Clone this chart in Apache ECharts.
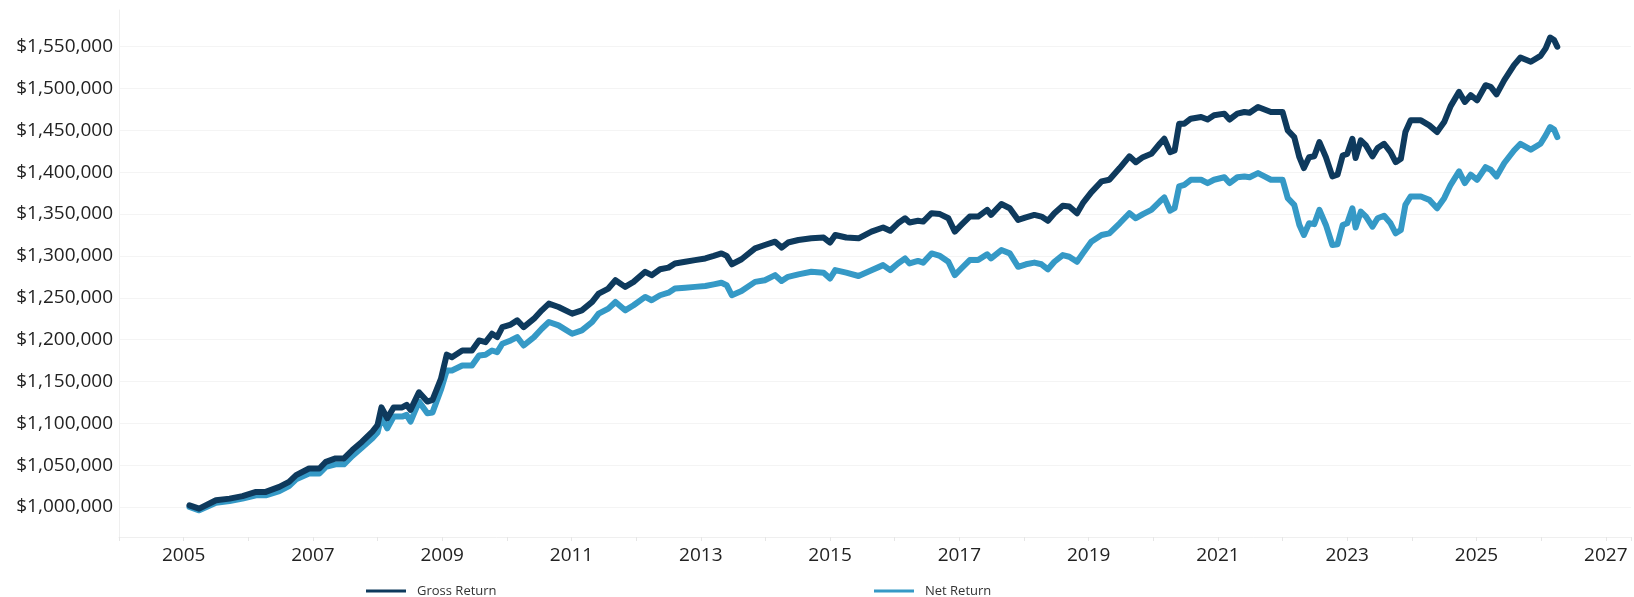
<!DOCTYPE html>
<html>
<head>
<meta charset="utf-8">
<style>
  html, body { margin: 0; padding: 0; background: #ffffff; }
  #chart { width: 1634px; height: 597px; }
</style>
<script src="https://cdn.jsdelivr.net/npm/echarts@6/dist/echarts.min.js"></script>
</head>
<body>
<div id="chart"></div>
<script>
// Decimal years of the read-off points
const years = [
  2005.09, 2005.24, 2005.50, 2005.71, 2005.91, 2006.12, 2006.27, 2006.48, 2006.63, 2006.74,
  2006.94, 2007.10, 2007.20, 2007.35, 2007.48, 2007.61, 2007.76, 2007.92, 2008.00, 2008.06,
  2008.15, 2008.25, 2008.38, 2008.45, 2008.51, 2008.64, 2008.77, 2008.85, 2008.98, 2009.07,
  2009.15, 2009.31, 2009.46, 2009.57, 2009.67, 2009.77, 2009.85, 2009.93, 2010.06, 2010.16,
  2010.26, 2010.42, 2010.54, 2010.65, 2010.80, 2011.01, 2011.16, 2011.32, 2011.42, 2011.57,
  2011.68, 2011.83, 2011.96, 2012.14, 2012.24, 2012.37, 2012.50, 2012.60, 2012.76, 2012.91,
  2013.07, 2013.20, 2013.32, 2013.40, 2013.48, 2013.63, 2013.84, 2013.99, 2014.15, 2014.25,
  2014.35, 2014.51, 2014.71, 2014.90, 2015.00, 2015.08, 2015.25, 2015.44, 2015.64, 2015.82,
  2015.93, 2016.05, 2016.16, 2016.23, 2016.36, 2016.44, 2016.57, 2016.70, 2016.83, 2016.93,
  2017.03, 2017.16, 2017.29, 2017.43, 2017.49, 2017.65, 2017.78, 2017.91, 2018.03, 2018.16,
  2018.27, 2018.37, 2018.47, 2018.60, 2018.70, 2018.82, 2018.91, 2019.04, 2019.20, 2019.32,
  2019.48, 2019.63, 2019.73, 2019.84, 2019.97, 2020.10, 2020.17, 2020.26, 2020.33, 2020.40,
  2020.48, 2020.58, 2020.74, 2020.84, 2020.94, 2021.10, 2021.18, 2021.30, 2021.41, 2021.49,
  2021.62, 2021.72, 2021.82, 2022.00, 2022.08, 2022.18, 2022.26, 2022.33, 2022.41, 2022.49,
  2022.57, 2022.67, 2022.77, 2022.85, 2022.93, 2023.00, 2023.08, 2023.13, 2023.21, 2023.29,
  2023.39, 2023.47, 2023.57, 2023.67, 2023.75, 2023.83, 2023.90, 2023.98, 2024.14, 2024.27,
  2024.39, 2024.50, 2024.60, 2024.73, 2024.82, 2024.91, 2025.01, 2025.14, 2025.22, 2025.31,
  2025.43, 2025.58, 2025.68, 2025.84, 2025.99, 2026.07, 2026.14, 2026.20, 2026.25
];

// Gross Return, thousands of dollars
const grossK = [
  1002, 998, 1008, 1010, 1013, 1018, 1018, 1024, 1030, 1038,
  1046, 1046, 1054, 1058, 1058, 1068, 1078, 1090, 1098, 1119,
  1106, 1119, 1119, 1122, 1116, 1137, 1126, 1128, 1153, 1182,
  1179, 1187, 1187, 1199, 1197, 1207, 1203, 1215, 1218, 1223,
  1215, 1225, 1235, 1243, 1239, 1231, 1235, 1245, 1255, 1261,
  1271, 1263, 1269, 1281, 1277, 1284, 1286, 1291, 1293, 1295,
  1297, 1300, 1303, 1300, 1290, 1296, 1309, 1313, 1317, 1310,
  1316, 1319, 1321, 1322, 1316, 1325, 1322, 1321, 1329, 1334,
  1330, 1339, 1345, 1340, 1342, 1341, 1351, 1350, 1345, 1329,
  1337, 1347, 1347, 1355, 1349, 1362, 1357, 1343, 1346, 1349,
  1347, 1342, 1351, 1360, 1359, 1351, 1363, 1376, 1389, 1391,
  1405, 1419, 1412, 1418, 1422, 1434, 1440, 1424, 1426, 1458,
  1458, 1464, 1466, 1463, 1468, 1470, 1463, 1470, 1472, 1471,
  1478, 1475, 1472, 1472, 1450, 1442, 1418, 1405, 1418, 1419,
  1436, 1418, 1395, 1397, 1420, 1422, 1440, 1417, 1438, 1432,
  1419, 1429, 1434, 1424, 1412, 1416, 1448, 1462, 1462, 1456,
  1448, 1460, 1479, 1496, 1484, 1492, 1486, 1504, 1502, 1493,
  1510, 1528, 1537, 1532, 1539, 1548, 1561, 1558, 1550
];

// Net Return, thousands of dollars
const netK = [
  1000, 996, 1005, 1007, 1010, 1014, 1014, 1019, 1025, 1033,
  1040, 1040, 1048, 1051, 1051, 1061, 1071, 1082, 1089, 1108,
  1094, 1108, 1108, 1110, 1102, 1126, 1112, 1113, 1140, 1163,
  1163, 1169, 1169, 1181, 1182, 1187, 1185, 1195, 1199, 1203,
  1193, 1203, 1213, 1221, 1217, 1207, 1211, 1221, 1231, 1237,
  1245, 1235, 1241, 1251, 1247, 1253, 1256, 1261, 1262, 1263,
  1264, 1266, 1268, 1265, 1253, 1258, 1269, 1271, 1277, 1270,
  1275, 1278, 1281, 1280, 1273, 1283, 1280, 1276, 1283, 1289,
  1283, 1291, 1297, 1291, 1294, 1292, 1303, 1300, 1293, 1277,
  1285, 1295, 1295, 1302, 1297, 1307, 1303, 1287, 1290, 1292,
  1290, 1284, 1293, 1301, 1299, 1293, 1303, 1317, 1325, 1327,
  1339, 1351, 1345, 1350, 1355, 1365, 1370, 1354, 1357, 1383,
  1385, 1391, 1391, 1387, 1391, 1394, 1387, 1394, 1395, 1394,
  1399, 1395, 1391, 1391, 1369, 1361, 1337, 1325, 1339, 1338,
  1355, 1337, 1313, 1314, 1337, 1339, 1357, 1334, 1353, 1347,
  1335, 1345, 1348, 1339, 1327, 1331, 1361, 1371, 1371, 1367,
  1357, 1369, 1385, 1401, 1387, 1397, 1391, 1406, 1403, 1395,
  1411, 1426, 1434, 1427, 1434, 1444, 1454, 1451, 1442
];

const seriesNames = ['Gross Return', 'Net Return'];
const seriesColors = ['#0e3a5d', '#3599c6'];

const grossData = years.map((y, i) => [y, grossK[i] * 1000]);
const netData = years.map((y, i) => [y, netK[i] * 1000]);

const FONT = '"Open Sans", "Noto Sans", sans-serif';

const chart = echarts.init(document.getElementById('chart'), null, { renderer: 'canvas' });

chart.setOption({
  animation: false,
  backgroundColor: '#ffffff',
  grid: { left: 119, right: 0, top: 10, bottom: 60, containLabel: false },
  legend: [
    {
      data: [seriesNames[0]], left: 366, top: 583, icon: 'rect',
      itemWidth: 40, itemHeight: 3, padding: 0,
      textStyle: { fontFamily: FONT, fontSize: 13, lineHeight: 16, color: '#333333', padding: [0, 0, 0, 6] }
    },
    {
      data: [seriesNames[1]], left: 874, top: 583, icon: 'rect',
      itemWidth: 40, itemHeight: 3, padding: 0,
      textStyle: { fontFamily: FONT, fontSize: 13, lineHeight: 16, color: '#333333', padding: [0, 0, 0, 6] }
    }
  ],
  xAxis: {
    type: 'value',
    min: 2004,
    max: 2027.39,
    interval: 1,
    axisLine: { show: true, lineStyle: { color: '#efefef', width: 1 } },
    axisTick: { show: true, length: 4, lineStyle: { color: '#e6e6e6' } },
    splitLine: { show: false },
    axisLabel: {
      interval: 0,
      margin: 9,
      fontFamily: FONT,
      fontSize: 19,
      color: '#222222',
      formatter: v => (Math.abs(v - Math.round(v)) < 1e-6 && Math.round(v) % 2 === 1) ? String(Math.round(v)) : ''
    }
  },
  yAxis: {
    type: 'value',
    min: 964130,
    max: 1593850,
    splitNumber: 12,
    minInterval: 50000,
    maxInterval: 50000,
    axisLine: { show: true, lineStyle: { color: '#efefef', width: 1 } },
    axisTick: { show: false },
    splitLine: { show: true, showMinLine: false, showMaxLine: false, lineStyle: { color: '#f4f4f4', width: 1 } },
    axisLabel: {
      margin: 6,
      fontFamily: FONT,
      fontSize: 19,
      color: '#222222',
      formatter: v => (Math.round(v) % 50000 === 0) ? '$' + Math.round(v).toLocaleString('en-US') : ''
    }
  },
  series: [
    {
      name: seriesNames[1],
      type: 'line',
      data: netData,
      symbol: 'none',
      color: seriesColors[1],
      lineStyle: { width: 6, color: seriesColors[1], cap: 'round', join: 'round' },
      z: 2
    },
    {
      name: seriesNames[0],
      type: 'line',
      data: grossData,
      symbol: 'none',
      color: seriesColors[0],
      lineStyle: { width: 6, color: seriesColors[0], cap: 'round', join: 'round' },
      z: 3
    }
  ]
});
</script>
</body>
</html>
